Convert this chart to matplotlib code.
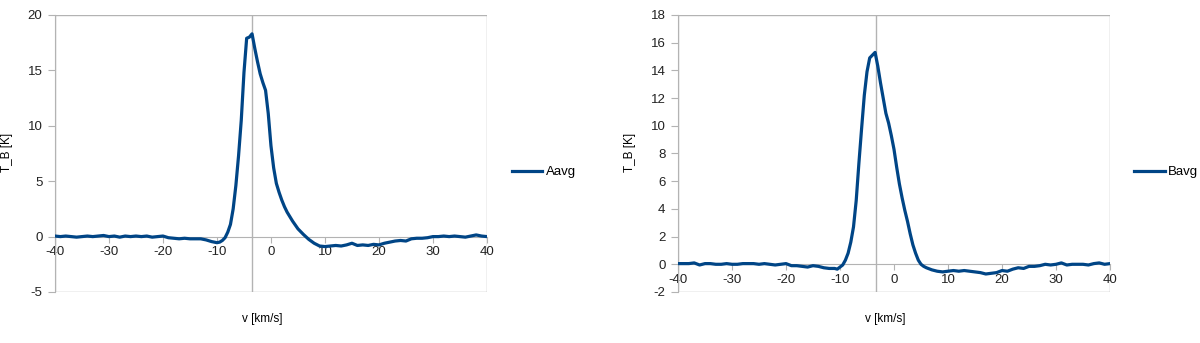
import numpy as np
import matplotlib.pyplot as plt
from matplotlib.patches import Rectangle

plt.rcParams['font.family'] = ['Liberation Sans', 'DejaVu Sans']
plt.rcParams['axes.unicode_minus'] = False

# ---- Aavg spectrum ----
vA = [-40, -39, -38, -37, -36, -35, -34, -33, -32, -31, -30, -29, -28, -27, -26,
      -25, -24, -23, -22, -21, -20, -19, -18, -17, -16, -15, -14, -13, -12, -11,
      -10, -9.5, -9, -8.5, -8, -7.5, -7, -6.5, -6, -5.5, -5, -4.5, -4, -3.5, -3,
      -2.5, -2, -1.5, -1, -0.5, 0, 0.5, 1, 1.5, 2, 2.5, 3, 4, 5, 6, 7, 8, 9, 10,
      11, 12, 13, 14, 15, 16, 17, 18, 19, 20, 21, 22, 23, 24, 25, 26, 27, 28, 29,
      30, 31, 32, 33, 34, 35, 36, 37, 38, 39, 40]
tA = [0.05, 0.0, 0.05, 0.0, -0.05, 0.0, 0.05, 0.0, 0.05, 0.1, 0.0, 0.05, -0.05,
      0.05, 0.0, 0.05, 0.0, 0.05, -0.05, 0.0, 0.05, -0.1, -0.15, -0.2, -0.15,
      -0.2, -0.2, -0.2, -0.3, -0.45,
      -0.55, -0.5, -0.35, -0.1, 0.4, 1.1, 2.5, 4.6, 7.3, 10.5, 14.8, 17.9, 18.0,
      18.3, 17.0, 15.8, 14.7, 13.9, 13.2, 11.1, 8.2, 6.2, 4.8, 4.0, 3.3, 2.7,
      2.2, 1.4, 0.7, 0.2, -0.25, -0.6, -0.85, -0.9,
      -0.85, -0.8, -0.85, -0.75, -0.6, -0.8, -0.75, -0.8, -0.7, -0.75, -0.6,
      -0.5, -0.4, -0.35, -0.4, -0.2, -0.15, -0.15, -0.1,
      0.0, 0.0, 0.05, 0.0, 0.05, 0.0, -0.05, 0.05, 0.15, 0.05, 0.0]

# ---- Bavg spectrum ----
vB = [-40, -39, -38, -37, -36, -35, -34, -33, -32, -31, -30, -29, -28, -27, -26,
      -25, -24, -23, -22, -21, -20, -19, -18, -17, -16, -15, -14, -13, -12, -11,
      -10.5, -10, -9.5, -9, -8.5, -8, -7.5, -7, -6.5, -6, -5.5, -5, -4.5, -4,
      -3.5, -3, -2.5, -2, -1.5, -1, -0.5, 0, 0.5, 1, 1.5, 2, 2.5, 3, 3.5, 4,
      4.5, 5, 5.5, 6, 7, 8, 9, 10, 11, 12, 13, 14, 15, 16, 17, 18, 19, 20, 21,
      22, 23, 24, 25, 26, 27, 28, 29, 30, 31, 32, 33, 34, 35, 36, 37, 38, 39, 40]
tB = [0.05, 0.05, 0.05, 0.1, -0.05, 0.05, 0.05, 0.0, 0.0, 0.05, 0.0, 0.0, 0.05,
      0.05, 0.05, 0.0, 0.05, 0.0, -0.05, 0.0, 0.05, -0.1, -0.1, -0.15, -0.2,
      -0.1, -0.15, -0.25, -0.3, -0.3,
      -0.35, -0.2, -0.05, 0.3, 0.8, 1.6, 2.7, 4.6, 7.3, 9.8, 12.2, 13.9, 14.9,
      15.1, 15.3, 14.3, 13.1, 12.0, 10.9, 10.2, 9.3, 8.3, 7.0, 5.8, 4.8, 3.9,
      3.1, 2.2, 1.4, 0.8, 0.3, 0.0, -0.15, -0.25, -0.4, -0.5, -0.55, -0.5,
      -0.45, -0.5, -0.45, -0.5, -0.55, -0.6, -0.7, -0.65, -0.6, -0.45, -0.5,
      -0.35, -0.25, -0.3, -0.15, -0.15, -0.1, 0.0, -0.05, 0.0, 0.1, -0.05, 0.0,
      0.0, 0.0, -0.05, 0.05, 0.1, 0.0, 0.05]

xticks = [-40, -30, -20, -10, 0, 10, 20, 30, 40]
line_color = '#004586'
grid_color = '#b3b3b3'


def spectrum_panel(ax, v, t, name, ylim, ystep, vmark, leg_x):
    ax.plot(v, t, color=line_color, lw=2.3, label=name, zorder=3)
    ax.set_xlim(-40, 40)
    ax.set_ylim(*ylim)
    ax.set_xticks(xticks)
    ax.set_yticks(np.arange(ylim[0], ylim[1] + 0.1, ystep))
    ax.axvline(vmark, color=grid_color, lw=1, zorder=1)
    # x axis crosses at T=0, frame drawn as a box
    for s in ['top', 'right']:
        ax.spines[s].set_visible(False)
    ax.spines['bottom'].set_position(('data', 0))
    ax.spines['bottom'].set_color(grid_color)
    ax.spines['left'].set_color(grid_color)
    ax.add_patch(Rectangle((0, 0), 1, 1, transform=ax.transAxes, fill=False,
                           edgecolor=grid_color, lw=1, zorder=2))
    ax.tick_params(axis='x', direction='out', length=4, color=grid_color,
                   labelsize=9.5, pad=3, labelcolor='#222222')
    ax.tick_params(axis='y', direction='out', length=5, color=grid_color,
                   labelsize=9.5, pad=4, labelcolor='#222222')
    ax.set_ylabel('T_B [K]', fontsize=8.5)
    ax.yaxis.set_label_coords(-0.097, 0.505)
    ax.set_xlabel('v [km/s]', fontsize=8.5)
    ax.xaxis.set_label_coords(0.48, -0.075)
    ax.legend(loc='center left', bbox_to_anchor=(leg_x, 0.433), frameon=False,
              borderaxespad=0, fontsize=9.5, handlelength=2.3,
              handletextpad=0.25)


fig = plt.figure(figsize=(12, 3.43), dpi=100)
ax1 = fig.add_axes([0.0458, 0.1487, 0.36, 0.8076])
ax2 = fig.add_axes([0.565, 0.1487, 0.36, 0.8076])

spectrum_panel(ax1, vA, tA, 'Aavg', (-5, 20), 5, -3.6, 1.046)
spectrum_panel(ax2, vB, tB, 'Bavg', (-2, 18), 2, -3.3, 1.044)

fig.savefig('out.png', dpi=100)
